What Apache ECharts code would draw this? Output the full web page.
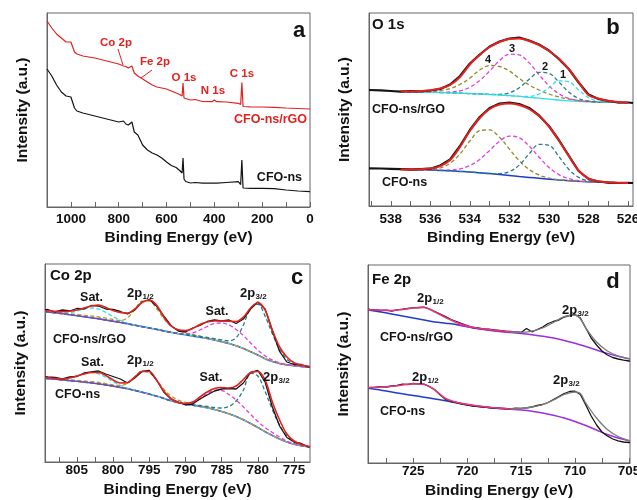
<!DOCTYPE html>
<html><head><meta charset="utf-8">
<script src="https://cdn.jsdelivr.net/npm/echarts@6/dist/echarts.min.js"></script>
<style>html,body{margin:0;padding:0;background:#fff}#c{width:637px;height:500px}</style>
</head><body><div id="c"></div>
<script>
// ---------- Panel a : survey ----------
const aE = [1100,1080,1060,1040,1020,1000,995,985,975,950,900,850,800,780,770,760,745,735,720,710,700,680,660,640,620,600,580,560,545,535,531,527,520,500,480,450,410,400,390,350,300,290,285,280,250,200,150,100,50,0];
const aRGO = [186,179,173,169,165,165,166,155,153,151,149,146,143,141,140.5,139,141,134,131,129.5,128,125,122,120,119,118,116,114,112.5,111,124,109,108.5,107,107.5,105.5,105.3,107,105.3,105,103.7,102.5,124.5,100.5,100.2,100,99.6,99,98.5,98];
const aNS = [138,131,122,115,111,110,111,99,96,94,91,88,85,86,83,82,85,75,72,67,62,57,54,52,49,45,41.5,39.5,36.5,34,49,28,25.5,24,24.5,23.8,23.8,24,23.8,24.5,25.3,22.5,47,19,18.7,18.7,18.3,17,16,15.3];
const aTicks = [0,100,200,300,400,500,600,700,800,900,1000];
const aLabels = [0,200,400,600,800,1000];

// ---------- Panel b : O 1s ----------
const bRawE = [539.1,538.5,538,537.5,537,536.5,536,535.5,535,534.5,534,533.5,533,532.5,532,531.5,531,530.5,530,529.5,529,528.5,528,527.5,527,526.5,526,525.75];
const bRawTop = [116,115.6,115,114.3,114.8,114.7,115.5,117,121.5,130,142.5,151.5,159.5,164.5,167.5,168.5,165.5,161.5,155.5,147,137,123.5,111.5,107,105,103.5,103.5,103];
const bRawBot = [37.7,37.5,37.2,36.8,36.4,36.9,37.3,40.5,46.5,60,76,89,98,102.5,103.5,102,98,90.5,80,66,50.5,35,27,24.5,23.3,23,23.2,23];
const bE = [537.5,537,536.5,536,535.5,535,534.5,534,533.5,533,532.5,532,531.5,531,530.5,530,529.5,529,528.5,528,527.5,527,526.5,526];
const bFitTop = [114.5,114.6,115,115.8,117.5,121,129,141.5,151,159,164,167,167.5,165,161,155,147.5,137,124,111,107.5,105.2,104,103.3];
const bBaseTop = [114.5,114.3,114,113.8,113.5,113.2,112.8,112.4,112,111.5,111,110.3,109.6,108.7,107.8,106.8,106,105.2,104.6,104.2,103.9,103.7,103.5,103.3];
const bP4Top = [114.6,114.5,114.4,114.5,115.5,117.5,121.5,128,136,140.5,139.5,135,127.5,121,116,112,109,107,105.5,104.7,104.2,103.9,103.6,103.4];
const bP3Top = [114.5,114.3,114,113.9,113.7,114,115.2,118.7,125.4,135,145.4,151.8,151.1,143.1,131.3,120.2,112.3,107.6,105.4,104.4,103.9,103.7,103.5,103.3];
const bP2Top = [114.5,114.3,114,113.8,113.5,113.2,112.8,112.4,112.1,111.6,111.7,113.2,118.3,126.7,133.6,132.6,124,113.9,107.5,104.9,104,103.7,103.5,103.3];
const bP1Top = [114.5,114.3,114,113.8,113.5,113.2,112.8,112.4,112,111.5,111,110.3,109.7,109.6,112,118.3,125.1,124.3,116.1,108.4,104.8,103.8,103.5,103.3];
const bFitBot = [36.6,36.6,36.8,37.5,39.8,46,59,75,88,97,101.5,102.5,101,97,90,79.5,65.5,50,35.5,27.5,24.8,23.7,23.2,23];
const bBaseBot = [36.8,36.6,36.3,36,35.6,35.2,34.6,34,33.2,32.4,31.5,30.5,29.5,28.6,27.7,26.8,26,25.3,24.7,24.2,23.8,23.5,23.3,23.1];
const bP4Bot = [36.8,36.6,36.4,36.6,38,42.6,52,65,75.3,76.1,68.7,56.9,45.2,36.4,30.9,27.9,26.3,25.4,24.7,24.2,23.8,23.5,23.3,23.1];
const bP3Bot = [36.8,36.6,36.3,36,35.8,36,37.1,40.4,46.6,55.6,64.7,69.9,68.2,60,48.8,38.6,31.4,27.4,25.3,24.3,23.8,23.5,23.3,23.1];
const bP2Bot = [36.8,36.6,36.3,36,35.6,35.2,34.6,34,33.2,32.5,32.4,34.4,40.9,52.2,61.6,60.7,49.6,36.7,28.6,25.1,24,23.5,23.3,23.1];
const bTicks = [526,527,528,529,530,531,532,533,534,535,536,537,538,539];
const bLabels = [526,528,530,532,534,536,538];

// ---------- Panel c : Co 2p ----------
const cE = [809.4,809,808,807,806,805,804,803,802,801,800,799,798,797,796,795,794,793,792,791,790,789,788,787,786,785,784,783,782,781,780,779,778,777,776,775,774,773,772.8];
const cRawTop = [152,152.5,150,152,151,153.5,153,156.5,156,153,152.5,150.5,148,152,160,162.5,156,146,136.5,131,130,134,136.5,140.5,142,141,142,138.5,143,153,160,153,131,110.5,100,97.5,97.5,95,95.3];
const cFitTop = [151.3,151.3,150.8,150.4,150.8,152,154,156,157,154.5,151.5,149.5,149,153,159.5,162,157,145,136,132.3,131.5,133.5,137.5,140,141,141,140.8,140.5,145,154,159.5,152,132,115,105,99.3,97,95.8,95.5];
const cBaseTop = [150.3,150,149.2,148.3,147.3,146.3,145.3,144.3,143.2,142,140.8,139.5,138.2,136.8,135.4,134,132.6,131.1,129.7,128.4,127.2,126,124.8,123.5,122,120.3,118.5,116.3,113.5,110.3,107,103.3,100.5,98.5,97.2,96.3,95.5,94.9,94.7];
const cSat1Top = [150.4,150.1,149.4,149.1,149.5,150.9,152.9,154,152.9,149.6,145.4,141.7,139,137,135.5,134,132.6,131.1,129.7,128.4,127.2,126,124.8,123.5,122,120.3,118.5,116.3,113.5,110.3,107,103.3,100.5,98.5,97.2,96.3,95.5,94.9,94.7];
const cP12Top = [150.8,150.5,149.8,149,148.3,147.6,146.8,146,145,143.8,142.5,141.5,144.3,152.4,160.8,160.9,153.5,143.5,136.2,131.8,129.2,127.5,125.8,124,122.2,120.4,118.5,116.3,113.5,110.3,107,103.3,100.5,98.5,97.2,96.3,95.5,94.9,94.7];
const cSat2Top = [150.3,150,149.2,148.3,147.3,146.3,145.3,144.3,143.2,142,140.8,139.5,138.2,136.8,135.4,134,132.6,131.1,129.8,128.6,128,129,132,135.5,138.5,139,137,132.5,126.5,119,112,106,102,99,97.3,96.3,95.5,94.9,94.7];
const cP32Top = [150.3,150,149.2,148.3,147.3,146.3,145.3,144.3,143.2,142,140.8,139.5,138.2,136.8,135.4,134,132.6,131.1,129.7,128.4,127.5,126.6,125.6,124.5,123.3,122,121.1,124.2,137,154.1,157.7,145.9,128.3,112.7,102.8,98,95.9,95,94.8];
const cRawBot = [85.3,85,84.5,83,85,85.5,89,90,91,88,85.5,83,79,84,90.5,91.5,82,70,63,60,57,58,63,67,71,73,73.5,73,79,89.5,91.5,80,55,36,24.5,20,18.5,15,15.5];
const cFitBot = [84.8,84.5,83.5,83,84,86,88,89.5,89.5,86.5,82,79,79.5,85,90.5,90.5,82,71,63.5,59.5,58.5,60,65,70,73.5,74.5,74,76,82.5,89.5,90.5,82,60,42,28,21,17.5,15.8,15.5];
const cBaseBot = [83.7,83.4,82.8,82.1,81.4,80.7,79.9,79.1,78.2,77.1,75.9,74.6,73.2,71.6,69.8,67.9,65.9,63.6,61.3,59.4,58,56.8,55.6,54.2,52.5,50.5,48.2,45.5,42.2,38.5,34.5,30.3,26.5,23,20,17.8,16.3,15.2,15];
const cSat1Bot = [83.8,83.5,83.1,83.2,83.9,85.8,88.1,89.4,88.2,84.7,80.4,76.7,73.9,71.8,69.8,67.9,65.9,63.6,61.3,59.4,58,56.8,55.6,54.2,52.5,50.5,48.2,45.5,42.2,38.5,34.5,30.3,26.5,23,20,17.8,16.3,15.2,15];
const cP12Bot = [84.1,83.8,83.3,82.7,82.2,81.6,81,80.3,79.5,78.3,77.2,76.5,78.7,85,90.6,89.2,82,72.8,66.1,61.9,59.7,57.8,56.2,54.5,52.5,50.5,48.2,45.5,42.2,38.5,34.5,30.3,26.5,23,20,17.8,16.3,15.2,15];
const cSat2Bot = [83.7,83.4,82.8,82.1,81.4,80.7,79.9,79.1,78.2,77.1,75.9,74.6,73.2,71.6,69.8,67.9,65.9,63.6,61.3,59.4,58.5,59.5,63,68,71.8,71.5,67.5,62,55,47.5,40.5,34.5,29.5,25,21,18.3,16.5,15.3,15];
const cP32Bot = [83.7,83.4,82.8,82.1,81.4,80.7,79.9,79.1,78.2,77.1,75.9,74.6,73.2,71.6,69.8,67.9,65.9,63.6,61.3,59.6,58.4,57.4,56.5,55.5,54.5,54,55.5,61,72,89,86,70.4,52.5,36.9,26.2,20.1,17,15.3,15];
const cTicks = [775,777.5,780,782.5,785,787.5,790,792.5,795,797.5,800,802.5,805,807.5];
const cLabels = [775,780,785,790,795,800,805];

// ---------- Panel d : Fe 2p ----------
const dRawE = [729.2,729,728.5,728,727.5,727,726.5,726,725.5,725,724.5,724,723.5,723,722.5,722,721.5,721,720.5,720,719.5,719,718.5,718,717.5,717,716.5,716,715.5,715,714.5,714,713.5,713,712.5,712,711.5,711,710.5,710,709.5,709,708.5,708,707.5,707,706.5,706,705.5,705,704.9];
const dRawTop = [153.8,153.5,153,152.5,152.8,152,153.2,153.8,154.5,155.2,155.5,155.8,154,151.5,149,146.5,143.5,141.5,139.5,137.5,135.5,135,134,133.8,133,132.5,131.8,131.5,131,130.5,134.5,131.2,133.5,136,139.5,141.5,143,146,147.5,148.5,145,135,125,118,112,108,105.5,104,102.8,102,101.8];
const dRawBot = [75.3,75.5,75.8,76.3,76,77,77.5,78.8,78.5,79.5,79.2,78.8,76.5,73.2,68,63.5,61.5,60.5,59,58,57,56.5,55.8,55.5,55,54.8,54.5,54,54.8,54.7,55.2,56,57.5,58.5,60.5,63.5,66.5,69.5,71.5,71.8,68.5,58,47,38,31,27,24,22.2,21,20.5,20.3];
const dE1 = [729.2,729,728,727,726,725,724,723,722,721,720,719,718,717,716,715];
const dFit1Top = [153.7,153.3,152.8,152.5,153.5,155,155.5,151,145.5,140.5,137,134.8,133.5,132.2,131.3,130.5];
const dFit1Bot = [75.3,75.3,76,76.7,78,79.3,78.5,73,64.5,60.8,58.6,57,55.8,54.8,54,54.3];
const dE2 = [716,715,714,713,712,711,710,709.5,709,708,707,706,705,704.9];
const dFit2Top = [131,130.6,131.8,135,140.5,146.3,148,144,135,121,112,107,104.3,104];
const dFit2Bot = [54,54.5,56,58.5,63,68.5,71,69.5,60,45,33.5,26.5,22.5,22.2];
const dB1E = [729.2,729,728,727,726,725,724,723,722,721,720,719,718,717,716];
const dBlueTop = [153.5,152.8,151,149,147,145,143,141,139.8,138.5,136.5,134.5,133.2,132,131];
const dBlueBot = [74.8,74.6,72.8,71,69.2,67.5,65.8,64,62.2,60.2,58.3,56.8,55.6,54.6,53.8];
const dB2E = [721,720,719,718,717,716,715,714,713,712,711,710,709,708,707,706,705,704.9];
const dPurpTop = [138.3,136.3,134.3,132.8,131.5,130.4,129.4,128.3,126.8,125,122.6,119.8,116.5,113,109.6,106.7,104.2,104];
const dPurpBot = [60.2,58.3,56.8,55.6,54.6,53.8,53,51.8,50,47.8,45,41.5,37.5,33,28.5,25,22.3,22];
const dTicks = [705,707.5,710,712.5,715,717.5,720,722.5,725,727.5];
const dLabels = [705,710,715,720,725];

// ---------- styling ----------
const FONT = '"Liberation Sans", Arial, Helvetica, sans-serif';
const RED = '#e3211f', BLK = '#141414', OLV = '#8f8b2c', OLV2 = '#b09a2a', MAG = '#e23fe0', TEAL = '#2a7d84', CYN = '#33dde6', BLU = '#1f3ccf', PUR = '#9a2fe2', PNK = '#e8357c', GRY = '#7c7c7c';

function zip(xs, ys) { return xs.map((x, i) => [x, ys[i]]); }
function ln(g, xs, ys, color, width, dashed, z, smooth) {
  return { type: 'line', xAxisIndex: g, yAxisIndex: g, data: zip(xs, ys), symbol: 'none', showSymbol: false,
    smooth: smooth ? 0.35 : false, lineStyle: { color: color, width: width, type: dashed ? [4, 2.5] : 'solid' },
    z: z, silent: true, animation: false };
}
function xAx(g, min, max, ticks, labels, margin, gap) {
  return { type: 'value', gridIndex: g, inverse: true, min: min, max: max,
    axisLine: { show: true, onZero: false, lineStyle: { color: '#666', width: 1 } },
    axisTick: { show: true, inside: true, length: 5, customValues: ticks, lineStyle: { color: '#666' } },
    axisLabel: { show: true, customValues: labels, formatter: function (v) { return String(v); }, margin: margin, color: '#111', fontSize: 13.5, fontWeight: 'bold', fontFamily: FONT, hideOverlap: false },
    splitLine: { show: false },
    name: 'Binding Energy (eV)', nameLocation: 'middle', nameGap: gap,
    nameTextStyle: { fontSize: 15.5, fontWeight: 'bold', color: '#111', fontFamily: FONT } };
}
function yAx(g, h) {
  return { type: 'value', gridIndex: g, min: 0, max: h,
    axisLine: { show: true, onZero: false, lineStyle: { color: '#666' } }, axisTick: { show: false }, axisLabel: { show: false },
    splitLine: { show: false }, name: 'Intensity (a.u.)', nameLocation: 'middle', nameGap: 16,
    nameTextStyle: { fontSize: 15.5, fontWeight: 'bold', color: '#111', fontFamily: FONT } };
}

const series = [
  ln(0, aE, aNS, BLK, 1.2, false, 3),
  ln(0, aE, aRGO, RED, 1.2, false, 3),
  ln(1, bE, bBaseTop, CYN, 1.3, false, 2, true),
  ln(1, bE, bP4Top, OLV, 1.3, true, 3, true),
  ln(1, bE, bP3Top, MAG, 1.3, true, 3, true),
  ln(1, bE, bP2Top, TEAL, 1.3, true, 3, true),
  ln(1, bE, bP1Top, CYN, 1.3, true, 3, true),
  ln(1, bRawE, bRawTop, BLK, 2.2, false, 4),
  ln(1, bE, bFitTop, RED, 2, false, 5, true),
  ln(1, bE, bBaseBot, BLU, 1.5, false, 2, true),
  ln(1, bE, bP4Bot, OLV, 1.3, true, 3, true),
  ln(1, bE, bP3Bot, MAG, 1.3, true, 3, true),
  ln(1, bE, bP2Bot, TEAL, 1.3, true, 3, true),
  ln(1, bRawE, bRawBot, BLK, 2.2, false, 4),
  ln(1, bE, bFitBot, RED, 2, false, 5, true),
  ln(2, cE, cBaseTop, PUR, 1.6, false, 2, true),
  ln(2, cE, cBaseTop, BLU, 1, true, 2, true),
  ln(2, cE, cSat1Top, CYN, 1.3, true, 3, true),
  ln(2, cE, cP12Top, OLV2, 1.3, true, 3, true),
  ln(2, cE, cSat2Top, MAG, 1.3, true, 3, true),
  ln(2, cE, cP32Top, TEAL, 1.3, true, 3, true),
  ln(2, cE, cRawTop, BLK, 1.3, false, 4),
  ln(2, cE, cFitTop, RED, 1.6, false, 5, true),
  ln(2, cE, cBaseBot, PUR, 1.6, false, 2, true),
  ln(2, cE, cBaseBot, BLU, 1, true, 2, true),
  ln(2, cE, cSat1Bot, CYN, 1.3, true, 3, true),
  ln(2, cE, cP12Bot, OLV2, 1.3, true, 3, true),
  ln(2, cE, cSat2Bot, MAG, 1.3, true, 3, true),
  ln(2, cE, cP32Bot, TEAL, 1.3, true, 3, true),
  ln(2, cE, cRawBot, BLK, 1.3, false, 4),
  ln(2, cE, cFitBot, RED, 1.6, false, 5, true),
  ln(3, dB1E, dBlueTop, BLU, 1.5, false, 2, true),
  ln(3, dB2E, dPurpTop, PUR, 1.5, false, 2, true),
  ln(3, dRawE, dRawTop, BLK, 1.3, false, 3),
  ln(3, dE1, dFit1Top, PNK, 1.6, false, 4, true),
  ln(3, dE2, dFit2Top, GRY, 1.3, false, 4, true),
  ln(3, dB1E, dBlueBot, BLU, 1.5, false, 2, true),
  ln(3, dB2E, dPurpBot, PUR, 1.5, false, 2, true),
  ln(3, dRawE, dRawBot, BLK, 1.3, false, 3),
  ln(3, dE1, dFit1Bot, PNK, 1.6, false, 4, true),
  ln(3, dE2, dFit2Bot, GRY, 1.3, false, 4, true)
];

const texts = [
  ['a', 299, 31, 22, BLK, 'center'], ['b', 613, 28, 22, BLK, 'center'], ['c', 297, 278, 22, BLK, 'center'], ['d', 613, 282, 22, BLK, 'center'],
  ['Co 2p', 116, 43, 11.5, RED, 'center'], ['Fe 2p', 155, 62, 11.5, RED, 'center'], ['O 1s', 184, 78, 11.5, RED, 'center'],
  ['N 1s', 213, 91, 11.5, RED, 'center'], ['C 1s', 242, 74, 11.5, RED, 'center'],
  ['CFO-ns/rGO', 307, 120, 12.5, RED, 'right'], ['CFO-ns', 302, 178, 12.5, BLK, 'right'],
  ['O 1s', 372, 25, 15, BLK, 'left'], ['4', 488, 60, 11, BLK, 'center'], ['3', 512, 49, 11, BLK, 'center'],
  ['2', 545, 67, 11, BLK, 'center'], ['1', 563, 75, 11, BLK, 'center'],
  ['CFO-ns/rGO', 372, 110, 12.5, BLK, 'left'], ['CFO-ns', 382, 183, 12.5, BLK, 'left'],
  ['Co 2p', 50, 276, 15, BLK, 'left'], ['Sat.', 91.5, 298, 12.5, BLK, 'center'], ['Sat.', 217, 312, 12.5, BLK, 'center'],
  ['CFO-ns/rGO', 53, 340, 12.5, BLK, 'left'], ['Sat.', 92.5, 363, 12.5, BLK, 'center'], ['Sat.', 211, 378, 12.5, BLK, 'center'],
  ['CFO-ns', 55, 395, 12.5, BLK, 'left'],
  ['Fe 2p', 372, 280, 15, BLK, 'left'], ['CFO-ns/rGO', 380, 338, 12.5, BLK, 'left'], ['CFO-ns', 380, 412, 12.5, BLK, 'left']
];
const subs = [
  ['1/2', 127, 293], ['3/2', 240, 293], ['1/2', 127, 360], ['3/2', 263, 377],
  ['1/2', 417, 298], ['3/2', 562, 310], ['1/2', 412, 377], ['3/2', 553, 380]
];
const graphic = [];
texts.forEach(t => graphic.push({ type: 'text', x: t[1], y: t[2], z: 100, silent: true,
  style: { text: t[0], fill: t[4], font: 'bold ' + t[3] + 'px ' + FONT, align: t[5], verticalAlign: 'middle', textAlign: t[5], textVerticalAlign: 'middle' } }));
subs.forEach(s => {
  graphic.push({ type: 'text', x: s[1], y: s[2], z: 100, silent: true,
    style: { text: '2p', fill: BLK, font: 'bold 13px ' + FONT, align: 'left', verticalAlign: 'middle', textAlign: 'left', textVerticalAlign: 'middle' } });
  graphic.push({ type: 'text', x: s[1] + 15.5, y: s[2] + 3.5, z: 100, silent: true,
    style: { text: s[0], fill: BLK, font: 'bold 8px ' + FONT, align: 'left', verticalAlign: 'middle', textAlign: 'left', textVerticalAlign: 'middle' } });
});
graphic.push({ type: 'line', z: 100, silent: true, shape: { x1: 118, y1: 49, x2: 123, y2: 65 }, style: { stroke: RED, lineWidth: 1 } });
graphic.push({ type: 'line', z: 100, silent: true, shape: { x1: 152, y1: 70, x2: 141, y2: 78 }, style: { stroke: RED, lineWidth: 1 } });

const gridBase = { show: true, borderColor: '#666', borderWidth: 1, containLabel: false, outerBoundsMode: 'none' };
const chart = echarts.init(document.getElementById('c'), null, { renderer: 'canvas', width: 637, height: 500 });
chart.setOption({
  animation: false,
  backgroundColor: '#fff',
  grid: [
    Object.assign({ left: 47, top: 13, width: 263, height: 194 }, gridBase),
    Object.assign({ left: 369, top: 13, width: 264, height: 193 }, gridBase),
    Object.assign({ left: 45, top: 264, width: 265, height: 198 }, gridBase),
    Object.assign({ left: 368, top: 265, width: 262, height: 198 }, gridBase)
  ],
  xAxis: [
    xAx(0, 0, 1100, aTicks, aLabels, 5, 23),
    xAx(1, 525.75, 539.1, bTicks, bLabels, 6, 24),
    xAx(2, 772.8, 809.4, cTicks, cLabels, 1.5, 19.5),
    xAx(3, 704.9, 729.2, dTicks, dLabels, 1, 19.5)
  ],
  yAxis: [yAx(0, 194), yAx(1, 193), yAx(2, 198), yAx(3, 198)],
  series: series,
  graphic: graphic
});
</script></body></html>
